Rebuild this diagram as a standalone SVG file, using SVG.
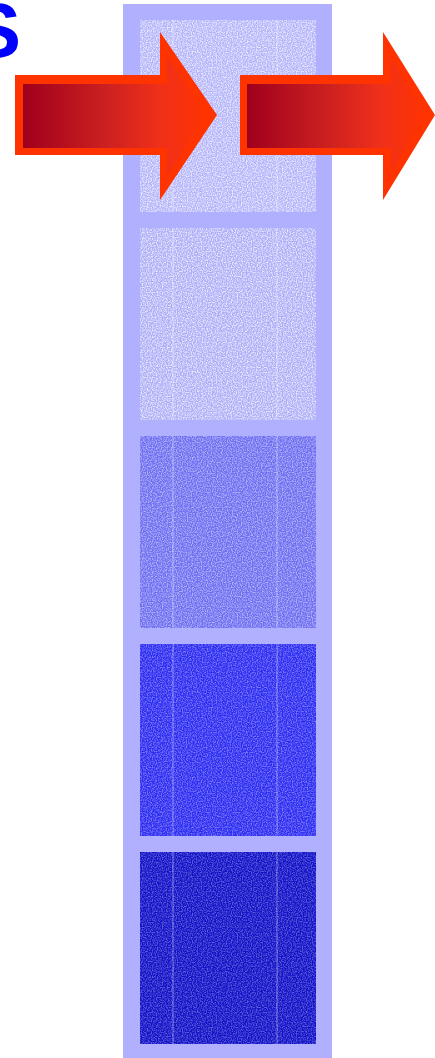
<svg xmlns="http://www.w3.org/2000/svg" width="435" height="1058" viewBox="0 0 435 1058">
<style>
.col{fill:#B0B0FF}
.speck{fill:#fff;filter:url(#noise)}
.line{stroke:#fff;stroke-opacity:0.2;stroke-width:2}
.arrowOuter{fill:#FF3300}
.arrowInner{fill:url(#grad)}
.title{font-family:"Liberation Sans",Arial,sans-serif;font-weight:bold;fill:#0000FF}
</style>
<defs>
<linearGradient id="grad" x1="0" y1="0" x2="1" y2="0">
<stop offset="0" stop-color="#A0001E"/>
<stop offset="0.45" stop-color="#CC2020"/>
<stop offset="0.75" stop-color="#F0301A"/>
<stop offset="1" stop-color="#FF3300"/>
</linearGradient>
<filter id="noise" x="0" y="0" width="1" height="1" filterUnits="objectBoundingBox">
<feTurbulence type="fractalNoise" baseFrequency="0.8" numOctaves="1" seed="3" result="n"/>
<feColorMatrix in="n" type="matrix" values="0 0 0 0 1  0 0 0 0 1  0 0 0 0 1  3.2 0 0 0 -1.25" result="a"/>
<feComposite in="a" in2="SourceGraphic" operator="in"/>
</filter>
</defs>
<g id="title"><text class="title" x="-31" y="57" font-size="78">S</text></g>
<g id="column"><rect class="col" x="123" y="4" width="209" height="1054"/></g>
<g id="box1"><rect x="140" y="20" width="176" height="192" fill="#B4B4FA"/><rect class="speck" x="140" y="20" width="176" height="192" opacity="0.7"/><line class="line" x1="173" y1="20" x2="173" y2="212"/><line class="line" x1="277" y1="20" x2="277" y2="212"/></g>
<g id="box2"><rect x="140" y="228" width="176" height="192" fill="#AEAEF8"/><rect class="speck" x="140" y="228" width="176" height="192" opacity="0.7"/><line class="line" x1="173" y1="228" x2="173" y2="420"/><line class="line" x1="277" y1="228" x2="277" y2="420"/></g>
<g id="box3"><rect x="140" y="436" width="176" height="192" fill="#6E6EF2"/><rect class="speck" x="140" y="436" width="176" height="192" opacity="0.45"/><line class="line" x1="173" y1="436" x2="173" y2="628"/><line class="line" x1="277" y1="436" x2="277" y2="628"/></g>
<g id="box4"><rect x="140" y="644" width="176" height="192" fill="#2C2CF2"/><rect class="speck" x="140" y="644" width="176" height="192" opacity="0.35"/><line class="line" x1="173" y1="644" x2="173" y2="836"/><line class="line" x1="277" y1="644" x2="277" y2="836"/></g>
<g id="box5"><rect x="140" y="852" width="176" height="192" fill="#1212C8"/><rect class="speck" x="140" y="852" width="176" height="192" opacity="0.3"/><line class="line" x1="173" y1="852" x2="173" y2="1044"/><line class="line" x1="277" y1="852" x2="277" y2="1044"/></g>
<g id="connectors">
<g id="arrow1">
<polygon class="arrowOuter" points="15,75 160,75 160,32 217,115 160,200 160,155 15,155"/>
<polygon class="arrowInner" points="23,84 167,84 167,55 207,115 167,176 167,148 23,148"/>
</g>
<g id="arrow2">
<polygon class="arrowOuter" points="240,75 383,75 383,32 435,115 383,200 383,155 240,155"/>
<polygon class="arrowInner" points="247,84 391,84 391,58 426,115 391,172 391,148 247,148"/>
</g>
</g>
</svg>
